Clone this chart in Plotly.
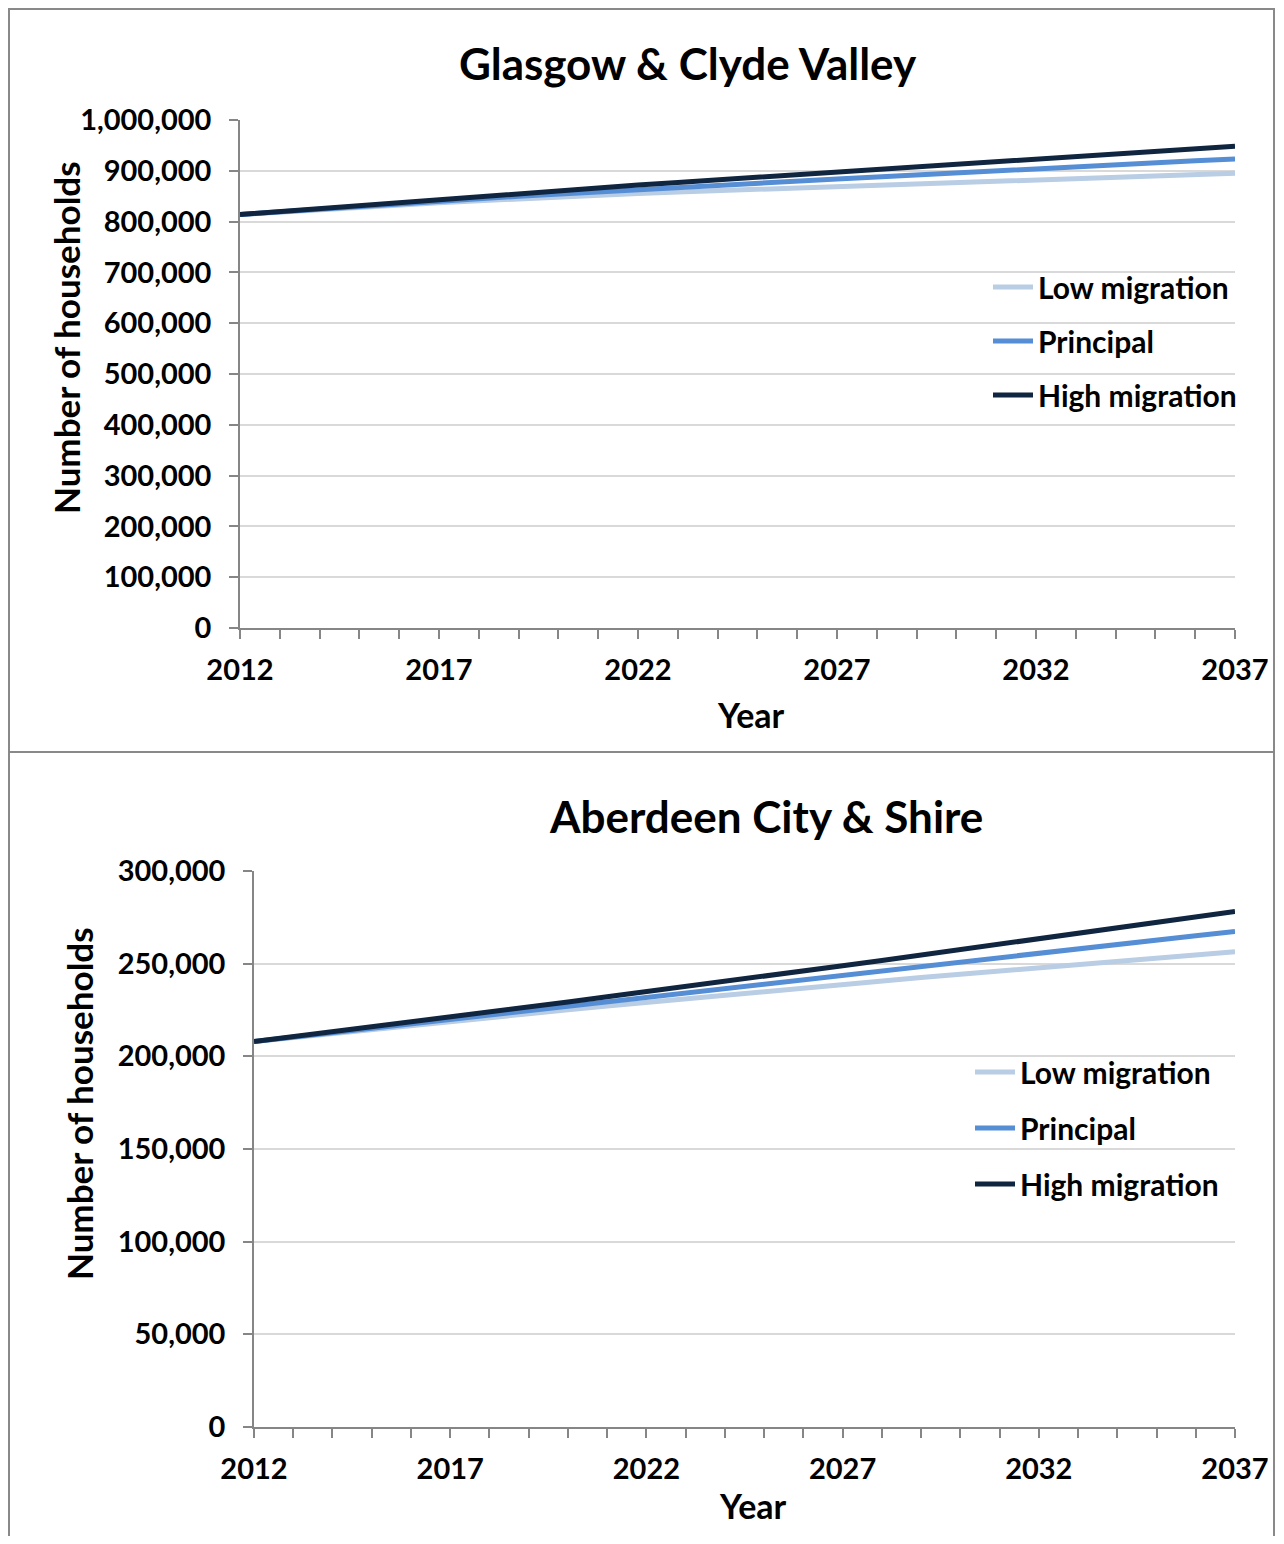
import plotly.graph_objects as go

years = list(range(2012, 2038))

# Glasgow & Clyde Valley (households)
gcv_low = [814000, 819000, 824000, 828500, 833000, 837000, 841000, 845000, 849000, 852500,
           855500, 858300, 861000, 863700, 866300, 869000, 871700, 874400, 877200, 880000,
           883000, 886000, 888500, 891000, 893000, 895000]
gcv_principal = [814000, 819500, 825000, 830000, 835000, 840000, 845000, 850000, 854500, 859000,
                 863200, 867400, 871600, 875800, 880000, 884000, 888000, 892200, 896300, 900400,
                 904500, 908500, 912300, 916000, 919600, 923000]
gcv_high = [814000, 820000, 826000, 832000, 838000, 844000, 850000, 856000, 862000, 867000,
            872000, 877000, 882000, 887000, 892000, 897000, 902000, 907000, 912000, 917000,
            922000, 927000, 932000, 937500, 943000, 948500]

# Aberdeen City & Shire (households)
acs_low = [208000, 210200, 212400, 214600, 216800, 219000, 221100, 223100, 225100, 227100,
           229100, 231100, 233000, 234900, 236800, 238700, 240600, 242500, 244300, 246100,
           247900, 249700, 251400, 253100, 254800, 256500]
acs_principal = [208000, 210400, 212800, 215200, 217600, 220000, 222400, 224700, 227000, 229400,
                 231800, 234200, 236600, 239000, 241400, 243800, 246200, 248600, 251000, 253400,
                 255800, 258200, 260500, 262800, 265100, 267300]
acs_high = [208000, 210600, 213200, 215900, 218500, 221200, 223900, 226600, 229300, 232100,
            234800, 237600, 240400, 243200, 246000, 248900, 251700, 254600, 257500, 260400,
            263300, 266300, 269200, 272200, 275200, 278200]

series_names = ["Low migration", "Principal", "High migration"]
series_colors = ["#B9CDE5", "#558ED5", "#10253F"]

gcv_ticks = [0, 100000, 200000, 300000, 400000, 500000, 600000, 700000, 800000, 900000, 1000000]
acs_ticks = [0, 50000, 100000, 150000, 200000, 250000, 300000]

OFF = 8  # page body margin
W, H = 1284 - 2 * OFF, 1544 - 2 * OFF
FONT = "Lato"

fig = go.Figure()

for name, color, vals in zip(series_names, series_colors, [gcv_low, gcv_principal, gcv_high]):
    fig.add_trace(go.Scatter(x=years, y=vals, mode="lines", name=name,
                             line=dict(color=color, width=5), legendgroup="a" + name,
                             xaxis="x", yaxis="y", legend="legend"))
for name, color, vals in zip(series_names, series_colors, [acs_low, acs_principal, acs_high]):
    fig.add_trace(go.Scatter(x=years, y=vals, mode="lines", name=name,
                             line=dict(color=color, width=5), legendgroup="b" + name,
                             xaxis="x2", yaxis="y2", legend="legend2"))

def px_x(p):
    return (p - OFF) / W

def px_y(p):
    return 1 - (p - OFF) / H

tickfont = dict(family=FONT, size=29, color="black", weight="bold")
axis_common = dict(showline=True, linecolor="#868686", linewidth=1.5,
                   ticks="outside", ticklen=9, tickcolor="#868686", tickwidth=1.5,
                   tickfont=tickfont, automargin=False)

xcommon = dict(axis_common, range=[2012, 2037], tick0=2012, dtick=5, showgrid=False,
               zeroline=False, ticklabelstandoff=6,
               minor=dict(dtick=1, tick0=2012, ticks="outside", ticklen=9,
                          tickcolor="#868686", tickwidth=1.5, showgrid=False))

legend_font = dict(family=FONT, size=30, color="black", weight="bold")

fig.update_layout(
    width=W, height=H, autosize=False,
    margin=dict(l=0, r=0, t=0, b=0, pad=0, autoexpand=False),
    paper_bgcolor="white", plot_bgcolor="white",
    font=dict(family=FONT, color="black"),
    xaxis=dict(xcommon, domain=[px_x(240), px_x(1235)], anchor="y"),
    yaxis=dict(axis_common, domain=[px_y(628), px_y(120)], anchor="x",
               range=[0, 1000000], tickvals=gcv_ticks, tickformat=",d",
               showgrid=True, gridcolor="#D9D9D9", gridwidth=1.5, zeroline=False,
               ticklabelstandoff=12),
    xaxis2=dict(xcommon, domain=[px_x(254), px_x(1235)], anchor="y2"),
    yaxis2=dict(axis_common, domain=[px_y(1427), px_y(871)], anchor="x2",
                range=[0, 300000], tickvals=acs_ticks, tickformat=",d",
                showgrid=True, gridcolor="#D9D9D9", gridwidth=1.5, zeroline=False,
                ticklabelstandoff=12),
    legend=dict(x=px_x(988), y=px_y(261), xanchor="left", yanchor="top",
                bgcolor="rgba(0,0,0,0)", tracegroupgap=12,
                font=legend_font, itemwidth=40),
    legend2=dict(x=px_x(970), y=px_y(1046), xanchor="left", yanchor="top",
                 bgcolor="rgba(0,0,0,0)", tracegroupgap=14,
                 font=legend_font, itemwidth=40),
    showlegend=True,
)

annots = [
    dict(text="Glasgow & Clyde Valley", x=px_x(688), y=px_y(63), size=44),
    dict(text="Aberdeen City & Shire", x=px_x(766), y=px_y(816), size=44),
    dict(text="Year", x=px_x(751), y=px_y(714), size=34),
    dict(text="Year", x=px_x(753), y=px_y(1505), size=34),
]
for a in annots:
    fig.add_annotation(text=a["text"], x=a["x"], y=a["y"], xref="paper", yref="paper",
                       xanchor="center", yanchor="middle", showarrow=False,
                       font=dict(family=FONT, size=a["size"], color="black", weight="bold"))
for (xp, yp) in [(66, 338), (79, 1104)]:
    fig.add_annotation(text="Number of households", x=px_x(xp), y=px_y(yp),
                       xref="paper", yref="paper", xanchor="center", yanchor="middle",
                       showarrow=False, textangle=-90,
                       font=dict(family=FONT, size=35, color="black", weight="bold"))

# panel borders
for (y0, y1) in [(9, 752), (752, 1560)]:
    fig.add_shape(type="rect", xref="paper", yref="paper",
                  x0=px_x(9), x1=px_x(1274), y0=px_y(y1), y1=px_y(y0),
                  line=dict(color="#898989", width=2), fillcolor="rgba(0,0,0,0)")

fig.write_html("out.html")
